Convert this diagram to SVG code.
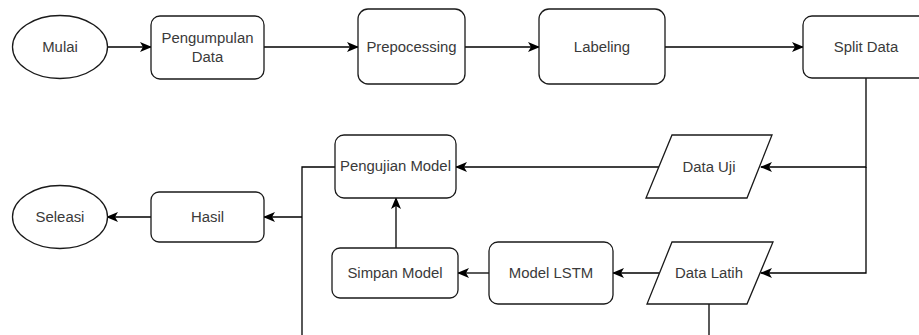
<svg xmlns="http://www.w3.org/2000/svg" width="919" height="335" viewBox="0 0 919 335">
<defs>
<marker id="arr" viewBox="0 0 12 10" refX="11" refY="5" markerWidth="12" markerHeight="10" markerUnits="userSpaceOnUse" orient="auto">
<path d="M0,0 L12,5 L0,10 L3,5 Z" fill="#000"/>
</marker>
<style>
.n{fill:#fff;stroke:#1a1a1a;stroke-width:1.3}
.t{font-family:"Liberation Sans",Arial,sans-serif;font-size:14.9px;fill:#3a3a3a;text-anchor:middle}
.c{fill:none;stroke:#000;stroke-width:1.3}
</style>
</defs>
<rect width="919" height="335" fill="#fff"/>
<g id="connectors">
<path class="c" d="M107,47 H151" marker-end="url(#arr)"/>
<path class="c" d="M264,47 H358" marker-end="url(#arr)"/>
<path class="c" d="M465,47 H539" marker-end="url(#arr)"/>
<path class="c" d="M665,47 H803" marker-end="url(#arr)"/>
<path class="c" d="M866,78 V167 H761" marker-end="url(#arr)"/>
<path class="c" d="M866,167 V273 H761" marker-end="url(#arr)"/>
<path class="c" d="M659,167 H456" marker-end="url(#arr)"/>
<path class="c" d="M659,273 H613" marker-end="url(#arr)"/>
<path class="c" d="M489,273 H458" marker-end="url(#arr)"/>
<path class="c" d="M396,248 V198" marker-end="url(#arr)"/>
<path class="c" d="M335,167 H302 V335"/>
<path class="c" d="M302,217 H264" marker-end="url(#arr)"/>
<path class="c" d="M151,217 H107" marker-end="url(#arr)"/>
<path class="c" d="M709,304 V335"/>
</g>
<g id="mulai"><ellipse class="n" cx="60" cy="47" rx="47.5" ry="31.5"/><text class="t" x="60" y="52">Mulai</text></g>
<g id="pengumpulan"><rect class="n" x="151" y="16" width="113" height="63" rx="9"/><text class="t" x="207.5" y="43">Pengumpulan</text><text class="t" x="207.5" y="62">Data</text></g>
<g id="prepocessing"><rect class="n" x="358" y="9" width="107" height="75" rx="10"/><text class="t" x="411.5" y="52">Prepocessing</text></g>
<g id="labeling"><rect class="n" x="539" y="9" width="126" height="75" rx="10"/><text class="t" x="602" y="52">Labeling</text></g>
<g id="split"><rect class="n" x="803" y="16" width="126" height="62" rx="9"/><text class="t" x="866" y="52">Split Data</text></g>
<g id="datauji"><path class="n" d="M672,135 H772 L747,198 H646 Z"/><text class="t" x="709" y="172">Data Uji</text></g>
<g id="datalatih"><path class="n" d="M672,242 H773 L747,304 H647 Z"/><text class="t" x="709" y="278">Data Latih</text></g>
<g id="modellstm"><rect class="n" x="489" y="242" width="124" height="62" rx="9"/><text class="t" x="551" y="278">Model LSTM</text></g>
<g id="simpan"><rect class="n" x="332" y="248" width="126" height="50" rx="8"/><text class="t" x="395" y="278">Simpan Model</text></g>
<g id="pengujian"><rect class="n" x="335" y="135" width="121" height="63" rx="9"/><text class="t" x="395.5" y="171">Pengujian Model</text></g>
<g id="hasil"><rect class="n" x="151" y="192" width="113" height="50" rx="8"/><text class="t" x="207.5" y="222">Hasil</text></g>
<g id="seleasi"><ellipse class="n" cx="60" cy="217" rx="47.5" ry="31.5"/><text class="t" x="60" y="222">Seleasi</text></g>
</svg>
